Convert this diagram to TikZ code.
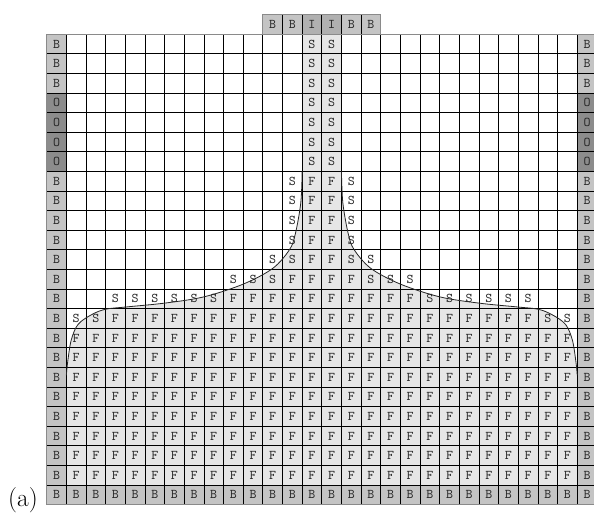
\documentclass[tikz,border=0pt]{standalone}
\usepackage{xcolor}
\definecolor{bcell}{HTML}{C4C4C4}
\definecolor{icell}{HTML}{B0B0B0}
\definecolor{ocell}{HTML}{8C8C8C}
\definecolor{fluid}{HTML}{E6E6E6}
\definecolor{framecol}{HTML}{8A8A8A}
\newcommand{\putcells}[3]{\foreach \cc in {#1} {\node[lab] (n-\cc-#2) at (\cc+0.5,#2+0.5) {#3};}}
\begin{document}
\begin{tikzpicture}[x=14.7375pt,y=-14.7pt,
  lab/.style={font=\fontsize{10}{11}\selectfont\ttfamily, text=black!85, inner sep=0pt},
  gridline/.style={line width=0.55pt, black},
  frameline/.style={line width=0.6pt, framecol},
  curveline/.style={line width=0.6pt, black!85}]
\useasboundingbox (-2.3766,-1.7449) rectangle (27.852,24.480);
\fill[white] (-2.3766,-1.7449) rectangle (27.852,24.480);
% fluid region
\fill[fluid] (13,0) -- (13,7) -- plot[smooth, tension=0.55] coordinates {(13,7) (12.93,8.6) (12.65,10.2) (12.35,11.0) (11.5,11.95) (10.0,12.75) (8,13.4) (6,13.72) (4,13.92) (3,14.03) (2.3,14.3) (1.6,14.8) (1.25,15.6) (1.07,16.7) (1,17.4)}
  -- (1,23) -- (27,23) -- (27,17.4) -- plot[smooth, tension=0.55] coordinates {(27,17.4) (26.93,16.7) (26.75,15.6) (26.4,14.8) (25.7,14.3) (25,14.03) (24,13.92) (22,13.72) (20,13.4) (18,12.75) (16.5,11.95) (15.65,11.0) (15.35,10.2) (15.07,8.6) (15,7)}
  -- (15,0) -- cycle;
% boundary cells
\fill[bcell] (0,0) rectangle (1,24);
\fill[bcell] (27,0) rectangle (28,24);
\fill[bcell] (0,23) rectangle (28,24);
\fill[ocell] (0,3) rectangle (1,7);
\fill[ocell] (27,3) rectangle (28,7);
\fill[bcell] (11,-1) rectangle (13,0);
\fill[icell] (13,-1) rectangle (15,0);
\fill[bcell] (15,-1) rectangle (17,0);
% grid
\foreach \c in {0,...,28} {\draw[gridline] (\c,0) -- (\c,24);}
\foreach \r in {0,...,24} {\draw[gridline] (0,\r) -- (28,\r);}
\foreach \c in {11,...,17} {\draw[gridline] (\c,-1) -- (\c,0);}
\draw[frameline] (0,0) rectangle (28,24);
\draw[frameline] (11,0) -- (11,-1) -- (17,-1) -- (17,0);
% curves
\draw[curveline] plot[smooth, tension=0.55] coordinates {(13,7) (12.93,8.6) (12.65,10.2) (12.35,11.0) (11.5,11.95) (10.0,12.75) (8,13.4) (6,13.72) (4,13.92) (3,14.03) (2.3,14.3) (1.6,14.8) (1.25,15.6) (1.07,16.7) (1,17.4)};
\draw[curveline] plot[smooth, tension=0.55] coordinates {(27,17.4) (26.93,16.7) (26.75,15.6) (26.4,14.8) (25.7,14.3) (25,14.03) (24,13.92) (22,13.72) (20,13.4) (18,12.75) (16.5,11.95) (15.65,11.0) (15.35,10.2) (15.07,8.6) (15,7)};
% top row labels
\putcells{11,12,15,16}{-1}{B}
\putcells{13,14}{-1}{I}
% side columns
\foreach \r in {0,1,2,7,8,9,10,11,12,13,14,15,16,17,18,19,20,21,22} {\putcells{0,27}{\r}{B}}
\foreach \r in {3,4,5,6} {\putcells{0,27}{\r}{O}}
% bottom row
\putcells{0,...,27}{23}{B}
% jet
\foreach \r in {0,...,6} {\putcells{13,14}{\r}{S}}
\foreach \r in {7,8,9,10} {\putcells{12,15}{\r}{S}\putcells{13,14}{\r}{F}}
\putcells{11,12,15,16}{11}{S}\putcells{13,14}{11}{F}
\putcells{9,10,11,16,17,18}{12}{S}\putcells{12,...,15}{12}{F}
\putcells{3,...,8,19,20,21,22,23,24}{13}{S}\putcells{9,...,18}{13}{F}
\putcells{1,2,25,26}{14}{S}\putcells{3,...,24}{14}{F}
\foreach \r in {15,...,22} {\putcells{1,...,26}{\r}{F}}
\node[font=\fontsize{19}{22}\selectfont, inner sep=0pt] (lbl) at (-1.206,23.77) {(a)};
\end{tikzpicture}
\end{document}
